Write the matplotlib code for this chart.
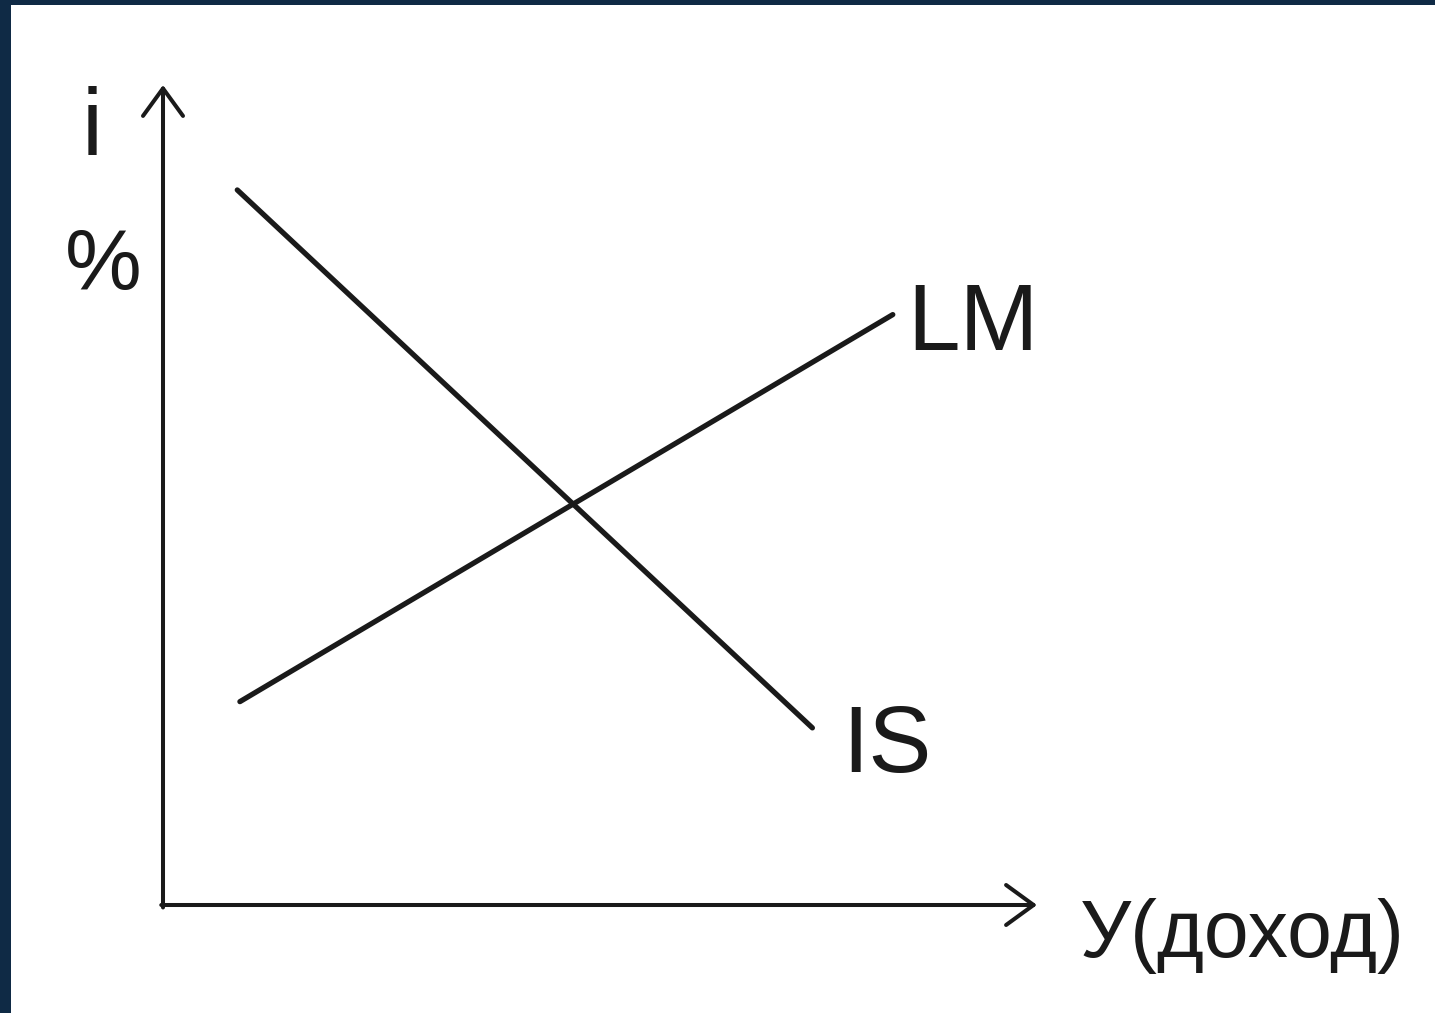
import matplotlib
matplotlib.use("Agg")
import matplotlib.pyplot as plt
from matplotlib.patches import Rectangle

# кривые IS и LM (условные единицы: доход Y по оси x, ставка i по оси y)
is_x = [8.5, 74.3]
is_y = [87.2, 21.6]
lm_x = [8.8, 83.5]
lm_y = [24.8, 72.0]

curve_labels = ["IS", "LM"]
x_label = "У(доход)"
y_label_top = "i"
y_label_bottom = "%"

ink = "#1a1a1a"
navy = "#0f2a45"

plt.rcParams['font.family'] = ['Liberation Sans Narrow', 'Liberation Sans', 'DejaVu Sans']

W, H = 1435, 1013
fig = plt.figure(figsize=(W / 100, H / 100), dpi=100, facecolor=navy)

# белый лист поверх тёмной рамки
fig.patches.append(Rectangle((11 / W, 0), 1 - 11 / W, 1008 / H,
                             transform=fig.transFigure, facecolor="white",
                             edgecolor="none", zorder=-5))

# оси: начало в (163, 905) px, концы стрелок в (1037, 905) и (163, 85)
ax = fig.add_axes([163 / W, (H - 905) / H, (1037 - 163) / W, (905 - 85) / H])
ax.set_zorder(5)
ax.set_xlim(0, 100)
ax.set_ylim(0, 100)
ax.axis("off")
ax.patch.set_alpha(0)

arrow = dict(arrowstyle="->,head_length=0.55,head_width=0.4", lw=2.9,
             color=ink, mutation_scale=36, shrinkA=0, shrinkB=0)
ax.annotate("", xy=(0, 100), xytext=(0, -0.3), arrowprops=arrow, annotation_clip=False)
ax.annotate("", xy=(100, 0), xytext=(-0.2, 0), arrowprops=arrow, annotation_clip=False)

ax.plot(is_x, is_y, color=ink, lw=3.8, solid_capstyle="round", clip_on=False)
ax.plot(lm_x, lm_y, color=ink, lw=3.8, solid_capstyle="round", clip_on=False)

fs = 68
ax.text(85.2, 67.7, curve_labels[1], fontsize=fs, color=ink, ha="left", va="baseline", clip_on=False)
ax.text(77.7, 16.2, curve_labels[0], fontsize=fs, color=ink, ha="left", va="baseline", clip_on=False)
ax.text(104.9, -6.3, x_label, fontsize=58, color=ink, ha="left", va="baseline", clip_on=False)
ax.text(-11.2, 75.0, y_label_bottom, fontsize=62, color=ink, ha="left", va="baseline", clip_on=False)
ax.text(-9.3, 91.5, y_label_top, fontsize=fs, color=ink, ha="left", va="baseline", clip_on=False)

fig.savefig("out.png", dpi=100, facecolor=navy)
